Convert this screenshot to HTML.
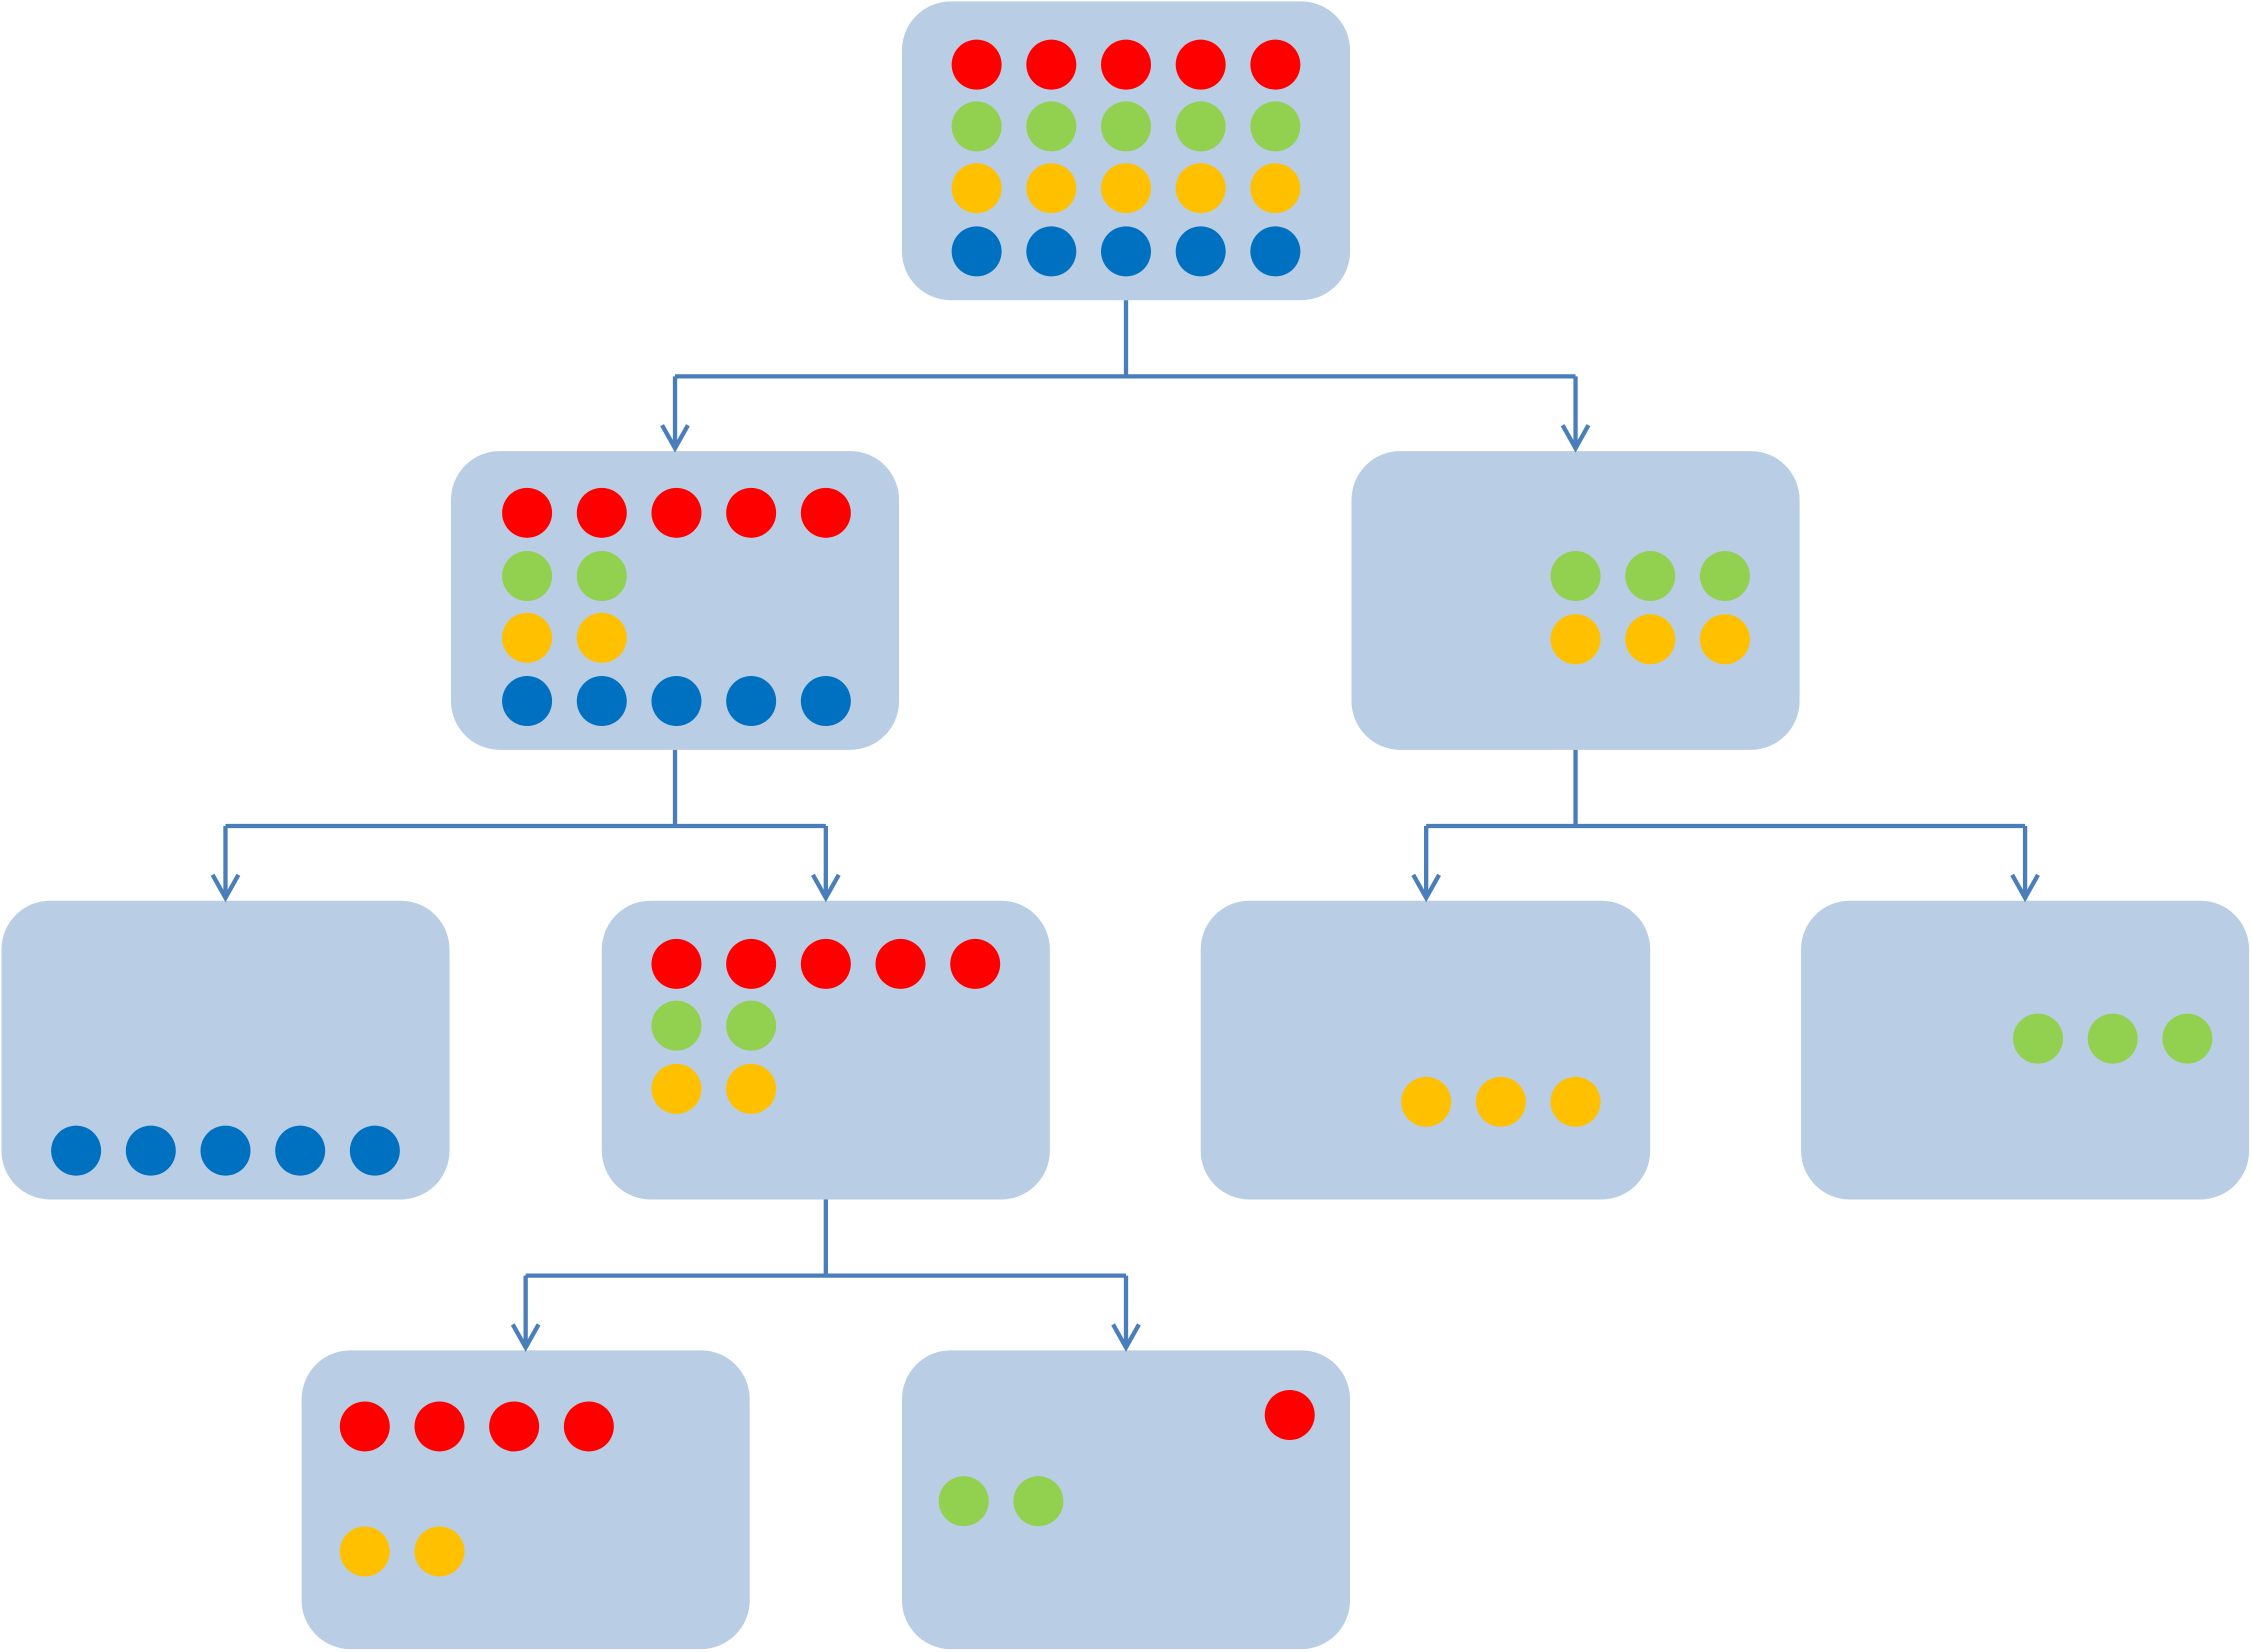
<!DOCTYPE html>
<html><head><meta charset="utf-8"><style>html,body{margin:0;padding:0;background:#fff}svg{display:block}</style></head>
<body>
<svg width="2252" height="1652" viewBox="0 0 1568 1150" preserveAspectRatio="none" xmlns="http://www.w3.org/2000/svg">
<g fill="#B9CDE5">
<rect x="628" y="1" width="312" height="208" rx="34"/>
<rect x="314" y="314" width="312" height="208" rx="34"/>
<rect x="941" y="314" width="312" height="208" rx="34"/>
<rect x="1" y="627" width="312" height="208" rx="34"/>
<rect x="419" y="627" width="312" height="208" rx="34"/>
<rect x="836" y="627" width="313" height="208" rx="34"/>
<rect x="1254" y="627" width="312" height="208" rx="34"/>
<rect x="210" y="940" width="312" height="208" rx="34"/>
<rect x="628" y="940" width="312" height="208" rx="34"/>
</g>
<g fill="none" stroke="#4A7EBB" stroke-width="3">
<path d="M784 209V262M470 262H1097M470 262V312M1097 262V312"/>
<path d="M461 296L470 312L479 296M1088 296L1097 312L1106 296"/>
<path d="M470 522V575M157 575H575M157 575V625M575 575V625"/>
<path d="M148 609L157 625L166 609M566 609L575 625L584 609"/>
<path d="M1097 522V575M993 575H1410M993 575V625M1410 575V625"/>
<path d="M984 609L993 625L1002 609M1401 609L1410 625L1419 609"/>
<path d="M575 835V888M366 888H784M366 888V938M784 888V938"/>
<path d="M357 922L366 938L375 922M775 922L784 938L793 922"/>
</g>
<g>
<g fill="#FF0000">
<circle cx="680" cy="45" r="17.4"/><circle cx="732" cy="45" r="17.4"/><circle cx="784" cy="45" r="17.4"/><circle cx="836" cy="45" r="17.4"/><circle cx="888" cy="45" r="17.4"/>
<circle cx="367" cy="357" r="17.4"/><circle cx="419" cy="357" r="17.4"/><circle cx="471" cy="357" r="17.4"/><circle cx="523" cy="357" r="17.4"/><circle cx="575" cy="357" r="17.4"/>
<circle cx="471" cy="671" r="17.4"/><circle cx="523" cy="671" r="17.4"/><circle cx="575" cy="671" r="17.4"/><circle cx="627" cy="671" r="17.4"/><circle cx="679" cy="671" r="17.4"/>
<circle cx="254" cy="993" r="17.4"/><circle cx="306" cy="993" r="17.4"/><circle cx="358" cy="993" r="17.4"/><circle cx="410" cy="993" r="17.4"/>
<circle cx="898" cy="985" r="17.4"/>
</g>
<g fill="#92D050">
<circle cx="680" cy="88" r="17.4"/><circle cx="732" cy="88" r="17.4"/><circle cx="784" cy="88" r="17.4"/><circle cx="836" cy="88" r="17.4"/><circle cx="888" cy="88" r="17.4"/>
<circle cx="367" cy="401" r="17.4"/><circle cx="419" cy="401" r="17.4"/>
<circle cx="1097" cy="401" r="17.4"/><circle cx="1149" cy="401" r="17.4"/><circle cx="1201" cy="401" r="17.4"/>
<circle cx="471" cy="714" r="17.4"/><circle cx="523" cy="714" r="17.4"/>
<circle cx="1419" cy="723" r="17.4"/><circle cx="1471" cy="723" r="17.4"/><circle cx="1523" cy="723" r="17.4"/>
<circle cx="671" cy="1045" r="17.4"/><circle cx="723" cy="1045" r="17.4"/>
</g>
<g fill="#FFC000">
<circle cx="680" cy="131" r="17.4"/><circle cx="732" cy="131" r="17.4"/><circle cx="784" cy="131" r="17.4"/><circle cx="836" cy="131" r="17.4"/><circle cx="888" cy="131" r="17.4"/>
<circle cx="367" cy="444" r="17.4"/><circle cx="419" cy="444" r="17.4"/>
<circle cx="1097" cy="445" r="17.4"/><circle cx="1149" cy="445" r="17.4"/><circle cx="1201" cy="445" r="17.4"/>
<circle cx="471" cy="758" r="17.4"/><circle cx="523" cy="758" r="17.4"/>
<circle cx="993" cy="767" r="17.4"/><circle cx="1045" cy="767" r="17.4"/><circle cx="1097" cy="767" r="17.4"/>
<circle cx="254" cy="1080" r="17.4"/><circle cx="306" cy="1080" r="17.4"/>
</g>
<g fill="#0070C0">
<circle cx="680" cy="175" r="17.4"/><circle cx="732" cy="175" r="17.4"/><circle cx="784" cy="175" r="17.4"/><circle cx="836" cy="175" r="17.4"/><circle cx="888" cy="175" r="17.4"/>
<circle cx="367" cy="488" r="17.4"/><circle cx="419" cy="488" r="17.4"/><circle cx="471" cy="488" r="17.4"/><circle cx="523" cy="488" r="17.4"/><circle cx="575" cy="488" r="17.4"/>
<circle cx="53" cy="801" r="17.4"/><circle cx="105" cy="801" r="17.4"/><circle cx="157" cy="801" r="17.4"/><circle cx="209" cy="801" r="17.4"/><circle cx="261" cy="801" r="17.4"/>
</g>
</g>
</svg>
</body></html>
